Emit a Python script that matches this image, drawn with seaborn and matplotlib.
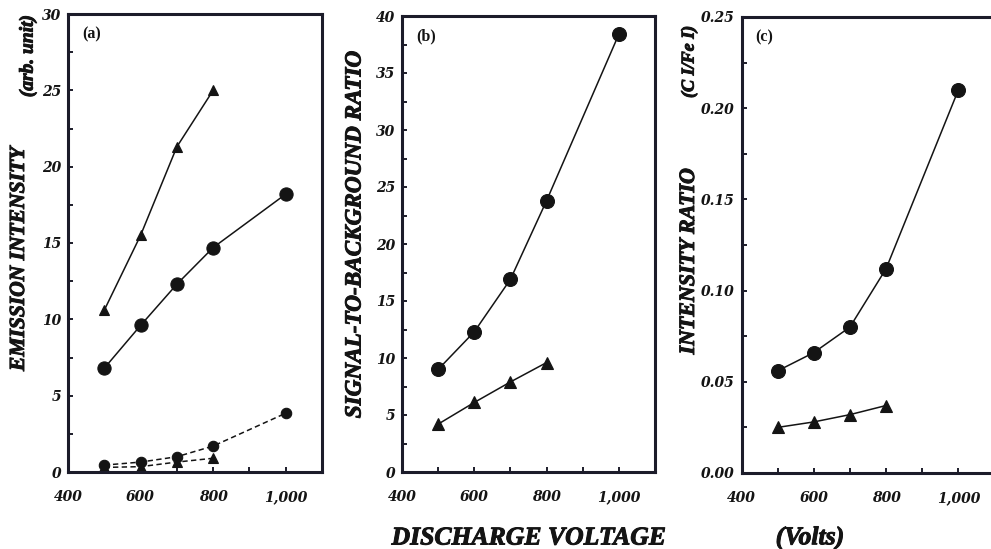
import matplotlib
matplotlib.use("Agg")
import matplotlib.pyplot as plt
from matplotlib.ticker import MultipleLocator, FuncFormatter
from matplotlib.font_manager import FontProperties
import matplotlib.patheffects as pe
import seaborn as sns
import pandas as pd

# Discharge voltages (V)
volts_all = [500, 600, 700, 800, 1000]
volts_tri = [500, 600, 700, 800]

# (a) emission intensity, arb. unit
a_tri_solid = [10.6, 15.5, 21.3, 25.0]
a_circ_solid = [6.8, 9.6, 12.3, 14.7, 18.2]
a_circ_dash = [0.45, 0.65, 1.0, 1.7, 3.85]
a_tri_dash = [0.3, 0.35, 0.65, 0.9]

# (b) signal-to-background ratio
b_circ = [9.0, 12.3, 16.9, 23.8, 38.4]
b_tri = [4.2, 6.1, 7.9, 9.6]

# (c) intensity ratio C I / Fe I
c_circ = [0.056, 0.066, 0.080, 0.112, 0.210]
c_tri = [0.025, 0.028, 0.032, 0.037]

x_ticks = [400, 600, 800, 1000]
x_tick_labels = ["400", "600", "800", "1,000"]

sns.set_style("ticks")
plt.rcParams["font.family"] = ["Liberation Serif", "DejaVu Serif"]

W, H = 991, 549
fig = plt.figure(figsize=(W / 100, H / 100), dpi=100)


def box(l, t, r, b):
    return [l / W, (H - b) / H, (r - l) / W, (b - t) / H]


ax_a = fig.add_axes(box(68, 14, 322, 472))
ax_b = fig.add_axes(box(402, 16, 655, 472))
ax_c = fig.add_axes(box(741.5, 17, 994.5, 473))

ink = "#141414"
spine_col = "#1c1c2a"
tick_fp = FontProperties(family="DejaVu Serif", weight="bold", style="italic", size=10)
heavy = [pe.withStroke(linewidth=0.7, foreground=ink)]


def series(ax, xs, ys, marker, ms, dashed=False):
    df = pd.DataFrame({"x": xs, "y": ys})
    sns.lineplot(data=df, x="x", y="y", ax=ax, color=ink, lw=1.1,
                 linestyle=(0, (3.5, 2.2)) if dashed else "-",
                 marker=marker, markersize=ms, markeredgecolor=ink,
                 markerfacecolor=ink, markeredgewidth=0.8)


def style(ax, ymax, ymajor, yfmt, tag):
    ax.set_xlim(400, 1100)
    ax.set_ylim(0, ymax)
    ax.set_xticks(x_ticks)
    ax.set_xticklabels(x_tick_labels)
    ax.xaxis.set_minor_locator(MultipleLocator(100))
    ax.yaxis.set_major_locator(MultipleLocator(ymajor))
    ax.yaxis.set_minor_locator(MultipleLocator(ymajor / 2))
    ax.yaxis.set_major_formatter(FuncFormatter(yfmt))
    ax.tick_params(which="both", direction="in", length=3.5, width=1.4,
                   color=spine_col, top=False, right=False)
    ax.tick_params(axis="x", pad=13)
    ax.tick_params(axis="y", pad=5)
    for lab in ax.get_xticklabels() + ax.get_yticklabels():
        lab.set_fontproperties(tick_fp)
        lab.set_color(ink)
    for s in ax.spines.values():
        s.set_linewidth(2.2)
        s.set_color(spine_col)
        s.set_visible(True)
    ax.set_xlabel("")
    ax.set_ylabel("")
    ax.text(0.055, 0.955, tag, transform=ax.transAxes, ha="left", va="center",
            fontsize=11.5, fontweight="bold", color=ink, family="Liberation Serif")


# (a)
series(ax_a, volts_tri, a_tri_solid, "^", 7.5)
series(ax_a, volts_all, a_circ_solid, "o", 9.5)
series(ax_a, volts_all, a_circ_dash, "o", 7.5, dashed=True)
series(ax_a, volts_tri, a_tri_dash, "^", 6.5, dashed=True)
style(ax_a, 30, 5, lambda v, p: f"{v:.0f}", "(a)")

# (b)
series(ax_b, volts_all, b_circ, "o", 10)
series(ax_b, volts_tri, b_tri, "^", 9)
style(ax_b, 40, 5, lambda v, p: f"{v:.0f}", "(b)")

# (c)
series(ax_c, volts_all, c_circ, "o", 10)
series(ax_c, volts_tri, c_tri, "^", 9)
style(ax_c, 0.25, 0.05, lambda v, p: f"{v:.2f}", "(c)")

lab = dict(family="Liberation Serif", weight="bold", style="italic", color=ink,
           path_effects=heavy)

fig.text(19 / W, 1 - 259 / H, "EMISSION INTENSITY", rotation=90,
         ha="center", va="center", fontsize=15.5, **lab)
fig.text(28 / W, 1 - 56 / H, "(arb. unit)", rotation=90,
         ha="center", va="center", fontsize=14, **lab)
fig.text(355 / W, 1 - 235 / H, "SIGNAL-TO-BACKGROUND RATIO", rotation=90,
         ha="center", va="center", fontsize=16.7, **lab)
fig.text(689 / W, 1 - 261 / H, "INTENSITY RATIO", rotation=90,
         ha="center", va="center", fontsize=15.8, **lab)
fig.text(689 / W, 1 - 62 / H, "(C I/Fe I)", rotation=90,
         ha="center", va="center", fontsize=13, **lab)
fig.text(529 / W, 1 - 538 / H, "DISCHARGE VOLTAGE",
         ha="center", va="center", fontsize=18.5, **lab)
fig.text(810 / W, 1 - 538 / H, "(Volts)",
         ha="center", va="center", fontsize=18.5, **lab)

fig.savefig("out.png", dpi=100, facecolor="white")
